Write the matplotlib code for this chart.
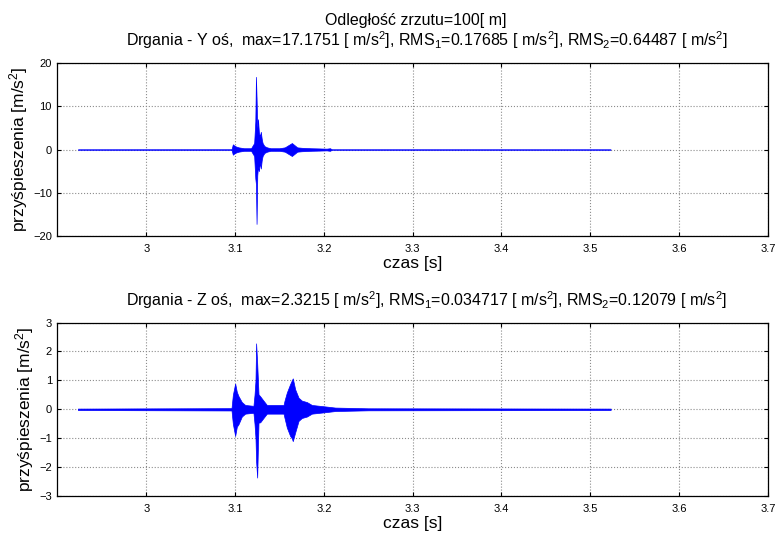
import matplotlib
matplotlib.use("Agg")
import matplotlib.pyplot as plt

plt.rcParams["font.family"] = ["Liberation Sans", "DejaVu Sans"]
plt.rcParams["mathtext.fontset"] = "custom"
plt.rcParams["mathtext.rm"] = "Liberation Sans"
plt.rcParams["mathtext.it"] = "Liberation Sans:italic"

# envelope of the Y-axis vibration signal
t_y = [2.923, 3.096, 3.0975, 3.0985, 3.101, 3.104, 3.107, 3.110, 3.118, 3.1215,
       3.1228, 3.1235, 3.1242, 3.1250, 3.1258, 3.1268, 3.128, 3.129, 3.1300, 3.131,
       3.133, 3.136, 3.140, 3.150, 3.156, 3.160, 3.164, 3.167, 3.170, 3.175,
       3.185, 3.195, 3.203, 3.207, 3.209, 3.523]
up_y = [0.02, 0.05, 1.2, 1.0, 0.7, 0.5, 0.4, 0.3, 0.3, 1.5,
        6.5, 16.8, 12.0, 5.0, 7.0, 4.0, 3.0, 4.1, 2.5, 1.5,
        0.8, 0.5, 0.3, 0.3, 0.5, 1.0, 1.5, 1.0, 0.5, 0.4,
        0.3, 0.25, 0.2, 0.3, 0.03, 0.02]
lo_y = [-0.02, -0.05, -1.2, -1.0, -0.7, -0.5, -0.4, -0.3, -0.3, -1.5,
        -6.7, -8.0, -17.2, -6.0, -4.0, -5.0, -3.0, -4.4, -2.5, -1.5,
        -0.8, -0.5, -0.3, -0.3, -0.5, -1.0, -1.5, -1.0, -0.5, -0.4,
        -0.3, -0.25, -0.2, -0.3, -0.03, -0.02]

# envelope of the Z-axis vibration signal
t_z = [2.923, 3.096, 3.0975, 3.1001, 3.102, 3.1038, 3.1076, 3.1114, 3.1207, 3.1219,
       3.1230, 3.1237, 3.1249, 3.1264, 3.1283, 3.132, 3.1358, 3.1546, 3.1557, 3.1583,
       3.162, 3.1639, 3.165, 3.1677, 3.1715, 3.1752, 3.1809, 3.1865, 3.2015, 3.2128,
       3.25, 3.523]
up_z = [0.025, 0.04, 0.5, 0.89, 0.6, 0.46, 0.25, 0.15, 0.12, 0.5,
        1.0, 2.28, 1.6, 0.52, 0.45, 0.3, 0.15, 0.15, 0.3, 0.58,
        0.87, 1.0, 1.07, 0.69, 0.4, 0.3, 0.25, 0.15, 0.1, 0.06,
        0.035, 0.025]
lo_z = [-0.025, -0.04, -0.5, -0.92, -0.6, -0.52, -0.25, -0.15, -0.12, -0.5,
        -1.0, -1.8, -2.36, -0.46, -0.45, -0.3, -0.15, -0.15, -0.3, -0.63,
        -0.92, -1.0, -1.1, -0.8, -0.4, -0.3, -0.25, -0.15, -0.1, -0.06,
        -0.035, -0.025]

x_ticks = [3, 3.1, 3.2, 3.3, 3.4, 3.5, 3.6, 3.7]
y_ticks_y = [-20, -10, 0, 10, 20]
y_ticks_z = [-3, -2, -1, 0, 1, 2, 3]

suptitle = "Odległość zrzutu=100[ m]"
title_y = ("Drgania - Y oś,  max=17.1751 [ m/s$^2$], RMS$_1$=0.17685 [ m/s$^2$], "
           "RMS$_2$=0.64487 [ m/s$^2$]")
title_z = ("Drgania - Z oś,  max=2.3215 [ m/s$^2$], RMS$_1$=0.034717 [ m/s$^2$], "
           "RMS$_2$=0.12079 [ m/s$^2$]")

fig = plt.figure(figsize=(7.78, 5.34), dpi=100)
ax1 = fig.add_axes([0.0739, 0.558, 0.913, 0.324])
ax2 = fig.add_axes([0.0739, 0.071, 0.913, 0.325])


def style(ax, t, up, lo, yticks, title):
    ax.fill_between(t, lo, up, color="#0000ff", edgecolor="#0000ff", linewidth=0.5, zorder=3)
    ax.set_xlim(2.9, 3.7)
    ax.set_ylim(yticks[0], yticks[-1])
    ax.set_xticks(x_ticks)
    ax.set_xticklabels([f"{v:g}" for v in x_ticks])
    ax.set_yticks(yticks)
    ax.grid(True, color="0.55", linestyle=":", linewidth=0.8)
    ax.tick_params(direction="in", top=True, right=True, labelsize=8, length=3, width=0.8)
    ax.tick_params(axis="x", pad=6)
    ax.tick_params(axis="y", pad=4)
    for s in ax.spines.values():
        s.set_linewidth(0.9)
    ax.set_xlabel("czas [s]", fontsize=12.5, labelpad=1)
    ax.set_ylabel("przyśpieszenia [m/s$^2$]", fontsize=12.5, labelpad=2)
    ax.set_title(title, fontsize=11.5, pad=12, x=0.52)


style(ax1, t_y, up_y, lo_y, y_ticks_y, title_y)
style(ax2, t_z, up_z, lo_z, y_ticks_z, title_z)
fig.text(0.534, 1 - 20 / 534, suptitle, fontsize=11.5, ha="center", va="center")

fig.savefig("out.png", dpi=100)
